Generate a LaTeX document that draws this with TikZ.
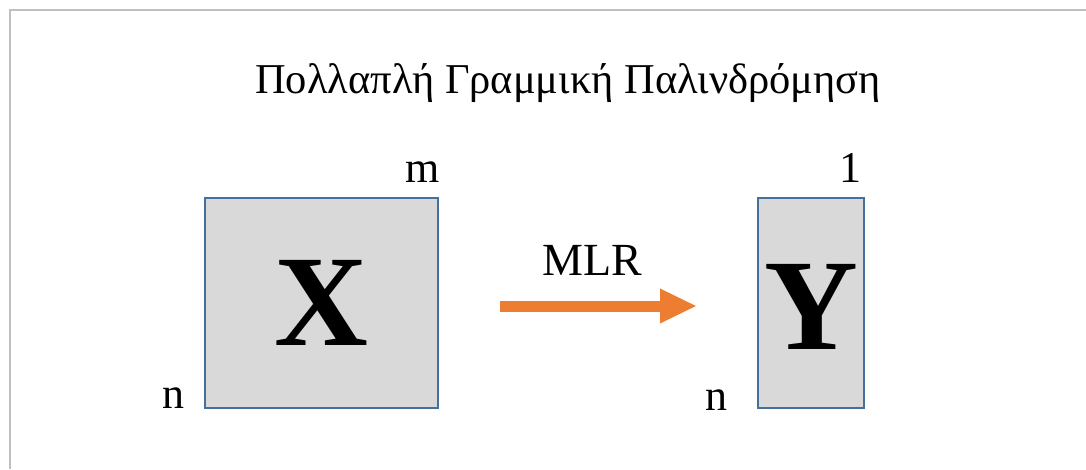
\documentclass[tikz,border=0pt]{standalone}
\usepackage{fontspec}
\setmainfont{Liberation Serif}
\usetikzlibrary{positioning,arrows.meta}
\definecolor{matblue}{HTML}{41719C}
\definecolor{matgray}{HTML}{D9D9D9}
\definecolor{mlrorange}{HTML}{ED7D31}
\definecolor{framegray}{HTML}{BFBFBF}
\tikzset{
	matbox/.style={draw=matblue, fill=matgray, line width=2pt, inner sep=0pt, anchor=south west},
	matletter/.style={font=\fontsize{130}{135}\selectfont\bfseries},
	dimlabel/.style={font=\fontsize{44}{50}\selectfont, inner sep=0pt, anchor=base east},
}

\begin{document}
\begin{tikzpicture}
	[x=1pt, y=1pt]
	\useasboundingbox (0,0) rectangle (1086,469);
	% \draw [help lines, step=50] (0,0) grid (1086,469);
	\draw [framegray, line width=2pt] (10,0) -- (10,459) -- (1086,459);
	\node [font=\fontsize{42.5}{50}\selectfont, anchor=base] (title) at (568,375)
		{Πολλαπλή Γραμμική Παλινδρόμηση};
	% matrices
	\node [matbox, minimum width=233, minimum height=210] (xbox) at (204,60) {};
	\node [matletter] (xlet) at (xbox.center) {X};
	\node [matbox, minimum width=106, minimum height=210] (ybox) at (757,60) {};
	\node [matletter] (ylet) at ([yshift=-4]ybox.center) {Y};
	% dimensions
	\node [dimlabel] (xcols) at (440,286) {m};
	\node [dimlabel] (xrows) at (185,61) {n};
	\node [dimlabel] (ycols) at (862,286) {1};
	\node [dimlabel] (yrows) at (728,59) {n};
	% arrow
	\coordinate (mlrstart) at (500,163);
	\coordinate (mlrend) at (697,163);
	\draw [mlrorange, line width=11, -{Triangle[length=37, width=32]}] (mlrstart) -- (mlrend);
	\node [font=\fontsize{46}{50}\selectfont, anchor=base] (mlr) at (592,194) {MLR};
\end{tikzpicture}
\end{document}
